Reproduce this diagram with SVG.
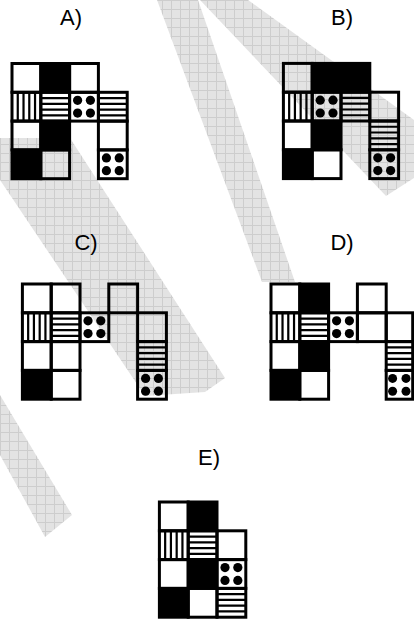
<svg xmlns="http://www.w3.org/2000/svg" xmlns:xlink="http://www.w3.org/1999/xlink" width="414" height="621" viewBox="0 0 414 621">
<style>
.c{fill:none;stroke:#000;stroke-width:3}
.k{fill:#000;stroke:#000;stroke-width:3}
.lbl{font-family:"Liberation Sans",Arial,sans-serif;font-size:22px;fill:#000;text-anchor:middle}
.st{stroke:#000;stroke-width:2.2}
.wm{fill:url(#grid)}
</style>
<defs>
<pattern id="grid" patternUnits="userSpaceOnUse" width="9" height="9">
<rect width="9" height="9" fill="#e3e3e3"/>
<path d="M0 0.5H9M0.5 0V9" stroke="#cdcdcd" stroke-width="1"/>
</pattern>
<g id="V" class="st"><path d="M5.76 0V28.8M11.52 0V28.8M17.28 0V28.8M23.04 0V28.8"/></g>
<g id="H" class="st"><path d="M0 5.76H28.8M0 11.52H28.8M0 17.28H28.8M0 23.04H28.8"/></g>
<g id="D" fill="#000"><circle cx="8" cy="8" r="4.6"/><circle cx="20.8" cy="8" r="4.6"/><circle cx="8" cy="20.8" r="4.6"/><circle cx="20.8" cy="20.8" r="4.6"/></g>
</defs>
<rect width="414" height="621" fill="#fff"/>
<g id="watermark">
<polygon class="wm" points="157,0 198,0 295,282 262,282"/>
<polygon class="wm" points="200,0 248,0 414,120 414,178 386,196"/>
<polygon class="wm" points="0,138 70,138 225,378 205,392 145,396 0,180"/>
<polygon class="wm" points="0,395 72,515 45,537 0,455"/>
</g>
<g id="connectors"/>
<g id="optA">
<text class="lbl" x="71" y="25">A)</text>
<use xlink:href="#V" x="12" y="92.3"/><use xlink:href="#H" x="40.8" y="92.3"/><use xlink:href="#D" x="69.6" y="92.3"/><use xlink:href="#H" x="98.4" y="92.3"/><use xlink:href="#D" x="98.4" y="149.9"/>
<rect class="c" x="12" y="63.5" width="28.8" height="28.8"/><rect class="k" x="40.8" y="63.5" width="28.8" height="28.8"/><rect class="c" x="69.6" y="63.5" width="28.8" height="28.8"/>
<rect class="c" x="12" y="92.3" width="28.8" height="28.8"/><rect class="c" x="40.8" y="92.3" width="28.8" height="28.8"/><rect class="c" x="69.6" y="92.3" width="28.8" height="28.8"/><rect class="c" x="98.4" y="92.3" width="28.8" height="28.8"/>
<rect class="c" x="12" y="121.1" width="28.8" height="28.8"/><rect class="k" x="40.8" y="121.1" width="28.8" height="28.8"/><rect class="c" x="98.4" y="121.1" width="28.8" height="28.8"/>
<rect class="k" x="12" y="149.9" width="28.8" height="28.8"/><rect class="c" x="40.8" y="149.9" width="28.8" height="28.8"/><rect class="c" x="98.4" y="149.9" width="28.8" height="28.8"/>
</g>
<g id="optB">
<text class="lbl" x="342" y="25">B)</text>
<use xlink:href="#V" x="283.4" y="92.2"/><use xlink:href="#D" x="312.2" y="92.2"/><use xlink:href="#H" x="341" y="92.2"/><use xlink:href="#H" x="369.8" y="121"/><use xlink:href="#D" x="369.8" y="149.8"/>
<rect class="c" x="283.4" y="63.4" width="28.8" height="28.8"/><rect class="k" x="312.2" y="63.4" width="57.6" height="28.8"/>
<rect class="c" x="283.4" y="92.2" width="28.8" height="28.8"/><rect class="c" x="312.2" y="92.2" width="28.8" height="28.8"/><rect class="c" x="341" y="92.2" width="28.8" height="28.8"/><rect class="c" x="369.8" y="92.2" width="28.8" height="28.8"/>
<rect class="c" x="283.4" y="121" width="28.8" height="28.8"/><rect class="k" x="312.2" y="121" width="28.8" height="28.8"/><rect class="c" x="369.8" y="121" width="28.8" height="28.8"/>
<rect class="k" x="283.4" y="149.8" width="28.8" height="28.8"/><rect class="c" x="312.2" y="149.8" width="28.8" height="28.8"/><rect class="c" x="369.8" y="149.8" width="28.8" height="28.8"/>
</g>
<g id="optC">
<text class="lbl" x="86" y="250">C)</text>
<use xlink:href="#V" x="22.4" y="312.8"/><use xlink:href="#H" x="51.2" y="312.8"/><use xlink:href="#D" x="80" y="312.8"/><use xlink:href="#H" x="137.6" y="341.6"/><use xlink:href="#D" x="137.6" y="370.4"/>
<rect class="c" x="22.4" y="284" width="28.8" height="28.8"/><rect class="c" x="51.2" y="284" width="28.8" height="28.8"/><rect class="c" x="108.8" y="284" width="28.8" height="28.8"/>
<rect class="c" x="22.4" y="312.8" width="28.8" height="28.8"/><rect class="c" x="51.2" y="312.8" width="28.8" height="28.8"/><rect class="c" x="80" y="312.8" width="28.8" height="28.8"/><rect class="c" x="137.6" y="312.8" width="28.8" height="28.8"/>
<rect class="c" x="22.4" y="341.6" width="28.8" height="28.8"/><rect class="c" x="51.2" y="341.6" width="28.8" height="28.8"/><rect class="c" x="137.6" y="341.6" width="28.8" height="28.8"/>
<rect class="k" x="22.4" y="370.4" width="28.8" height="28.8"/><rect class="c" x="51.2" y="370.4" width="28.8" height="28.8"/><rect class="c" x="137.6" y="370.4" width="28.8" height="28.8"/>
</g>
<g id="optD">
<text class="lbl" x="342" y="250">D)</text>
<use xlink:href="#V" x="271" y="312.8"/><use xlink:href="#H" x="299.8" y="312.8"/><use xlink:href="#D" x="328.6" y="312.8"/>
<g transform="translate(386.2,341.6) scale(0.92,1)"><use xlink:href="#H"/></g>
<g fill="#000"><circle cx="392.6" cy="378.4" r="4.5"/><circle cx="406" cy="378.4" r="4.5"/><circle cx="392.6" cy="391.2" r="4.5"/><circle cx="406" cy="391.2" r="4.5"/></g>
<rect class="c" x="271" y="284" width="28.8" height="28.8"/><rect class="k" x="299.8" y="284" width="28.8" height="28.8"/><rect class="c" x="357.4" y="284" width="28.8" height="28.8"/>
<rect class="c" x="271" y="312.8" width="28.8" height="28.8"/><rect class="c" x="299.8" y="312.8" width="28.8" height="28.8"/><rect class="c" x="328.6" y="312.8" width="28.8" height="28.8"/><rect class="c" x="357.4" y="312.8" width="28.8" height="28.8"/><rect class="c" x="386.2" y="312.8" width="26.5" height="28.8"/>
<rect class="c" x="271" y="341.6" width="28.8" height="28.8"/><rect class="k" x="299.8" y="341.6" width="28.8" height="28.8"/><rect class="c" x="386.2" y="341.6" width="26.5" height="28.8"/>
<rect class="k" x="271" y="370.4" width="28.8" height="28.8"/><rect class="c" x="299.8" y="370.4" width="28.8" height="28.8"/><rect class="c" x="386.2" y="370.4" width="26.5" height="28.8"/>
</g>
<g id="optE">
<text class="lbl" x="209" y="465">E)</text>
<use xlink:href="#V" x="159.4" y="530.8"/><use xlink:href="#H" x="188.2" y="530.8"/><use xlink:href="#D" x="217" y="559.6"/><use xlink:href="#H" x="217" y="588.4"/>
<rect class="c" x="159.4" y="502" width="28.8" height="28.8"/><rect class="k" x="188.2" y="502" width="28.8" height="28.8"/>
<rect class="c" x="159.4" y="530.8" width="28.8" height="28.8"/><rect class="c" x="188.2" y="530.8" width="28.8" height="28.8"/><rect class="c" x="217" y="530.8" width="28.8" height="28.8"/>
<rect class="c" x="159.4" y="559.6" width="28.8" height="28.8"/><rect class="k" x="188.2" y="559.6" width="28.8" height="28.8"/><rect class="c" x="217" y="559.6" width="28.8" height="28.8"/>
<rect class="k" x="159.4" y="588.4" width="28.8" height="28.8"/><rect class="c" x="188.2" y="588.4" width="28.8" height="28.8"/><rect class="c" x="217" y="588.4" width="28.8" height="28.8"/>
</g>
</svg>
